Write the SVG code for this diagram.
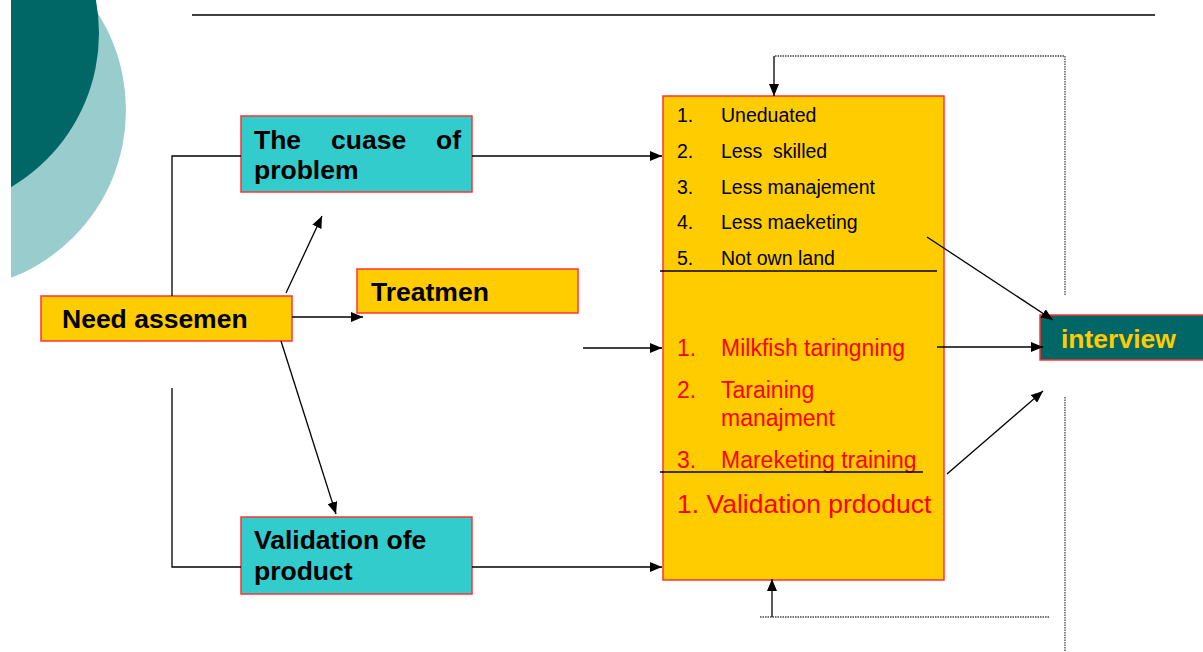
<svg xmlns="http://www.w3.org/2000/svg" width="1203" height="652" viewBox="0 0 1203 652">
<defs>
<clipPath id="bgclip"><rect x="11" y="0" width="300" height="652"/></clipPath>
<marker id="ah" viewBox="0 0 12 10" refX="12" refY="5" markerWidth="12" markerHeight="10" markerUnits="userSpaceOnUse" orient="auto"><path d="M0,0 L12,5 L0,10 z" fill="#000"/></marker>
</defs>
<style>
.box{stroke:#FF3333;stroke-width:1.5}
.yel{fill:#FFCC00}
.cyan{fill:#33CCCC}
.teal{fill:#006666}
.bt{font-family:"Liberation Sans",Arial,sans-serif;font-weight:bold;font-size:26.5px;fill:#000}
.it{font-family:"Liberation Sans",Arial,sans-serif;font-size:19.5px;fill:#000}
.rt{font-family:"Liberation Sans",Arial,sans-serif;font-size:23px;fill:#FF0000}
.ln{stroke:#000;stroke-width:1.3;fill:none}
.ar{stroke:#000;stroke-width:1.3;fill:none;marker-end:url(#ah)}
.dot{stroke:#444;stroke-width:1.3;fill:none;stroke-dasharray:1.5 1}
</style>
<rect width="1203" height="652" fill="#fff"/>
<g id="background" clip-path="url(#bgclip)">
<circle cx="-54" cy="110" r="180" fill="#99CCCC"/>
<circle cx="-80" cy="33" r="179" fill="#006666"/>
</g>
<line x1="192" y1="15" x2="1155" y2="15" stroke="#000" stroke-width="1.3"/>
<g id="need">
<rect class="box yel" x="41" y="296" width="251" height="45"/>
<text class="bt" x="62" y="328">Need assemen</text>
</g>
<g id="cause">
<rect class="box cyan" x="241" y="116" width="231" height="76"/>
<text class="bt" y="149"><tspan x="254">The</tspan><tspan x="331">cuase</tspan><tspan x="436">of</tspan></text>
<text class="bt" x="254" y="179">problem</text>
</g>
<g id="treat">
<rect class="box yel" x="357" y="269" width="221" height="44"/>
<text class="bt" x="371" y="301">Treatmen</text>
</g>
<g id="valid">
<rect class="box cyan" x="241" y="517" width="231" height="77"/>
<text class="bt" x="254" y="549">Validation ofe</text>
<text class="bt" x="254" y="580">product</text>
</g>
<g id="bigbox">
<rect class="box yel" x="663" y="96" width="281" height="484"/>
<text class="it" x="677" y="122">1.</text><text class="it" x="721" y="122">Uneduated</text>
<text class="it" x="677" y="158">2.</text><text class="it" x="721" y="158" xml:space="preserve">Less  skilled</text>
<text class="it" x="677" y="194">3.</text><text class="it" x="721" y="194">Less manajement</text>
<text class="it" x="677" y="229">4.</text><text class="it" x="721" y="229">Less maeketing</text>
<text class="it" x="677" y="265">5.</text><text class="it" x="721" y="265">Not own land</text>
<line class="ln" x1="660" y1="271" x2="937" y2="271"/>
<text class="rt" x="677" y="356">1.</text><text class="rt" x="721" y="356">Milkfish taringning</text>
<text class="rt" x="677" y="398">2.</text><text class="rt" x="721" y="398">Taraining</text>
<text class="rt" x="721" y="426">manajment</text>
<text class="rt" x="677" y="468">3.</text><text class="rt" x="721" y="468">Mareketing training</text>
<line class="ln" x1="660" y1="472" x2="923" y2="472"/>
<text class="rt" x="677" y="513" style="font-size:26.5px">1. Validation prdoduct</text>
</g>
<g id="interview">
<rect class="box teal" x="1040" y="315" width="175" height="45"/>
<text class="bt" x="1061" y="348" style="fill:#FFCC00">interview</text>
</g>
<g id="connectors">
<polyline class="ln" points="172,296 172,156 241,156"/>
<line class="ar" x1="472" y1="156" x2="662" y2="156"/>
<polyline class="ln" points="172,388 172,567 241,567"/>
<line class="ar" x1="472" y1="567" x2="662" y2="567"/>
<line class="ar" x1="286" y1="293" x2="322" y2="216"/>
<line class="ar" x1="292" y1="317" x2="363" y2="317"/>
<line class="ar" x1="281" y1="341" x2="336" y2="514"/>
<line class="ar" x1="583" y1="348" x2="662" y2="348"/>
<polyline class="dot" points="1065,295 1065,56 774,56"/>
<line class="ar" x1="774" y1="56" x2="774" y2="96"/>
<line class="dot" x1="1065" y1="397" x2="1065" y2="652"/>
<line class="dot" x1="760" y1="617" x2="1050" y2="617"/>
<line class="ar" x1="772" y1="617" x2="772" y2="579"/>
<line class="ar" x1="927" y1="237" x2="1053" y2="320"/>
<line class="ar" x1="937" y1="347" x2="1043" y2="347"/>
<line class="ar" x1="947" y1="474" x2="1043" y2="391"/>
</g>
</svg>
